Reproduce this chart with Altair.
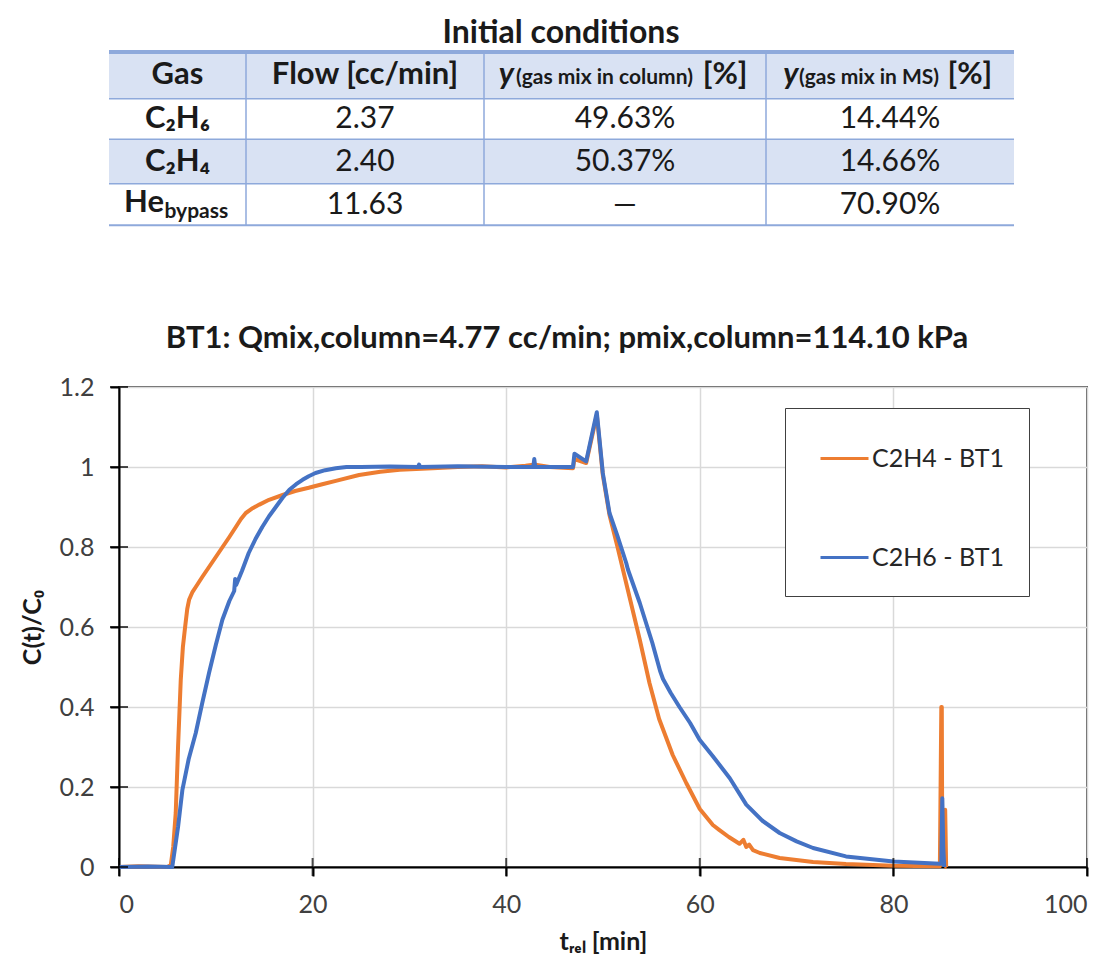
import altair as alt
import pandas as pd

# ---------------- data: breakthrough curves ----------------
series_names = ["C2H4 - BT1", "C2H6 - BT1"]
series_colors = ["#ED7D31", "#4472C4"]

t_c2h4 = [0, 2, 5.0, 5.35, 5.6, 5.86, 6.1, 6.38, 6.6, 6.83,
          7.05, 7.24, 7.6, 7.93, 8.6, 9.3, 10.0, 10.7, 11.4, 12.07,
          12.6, 13.1, 13.8, 14.5, 15.5, 16.9, 18.2, 19.6, 21.0, 22.5,
          24.8, 27.0, 29.0, 32.4, 35.0, 37.5, 40.0, 42.0, 43.0, 44.5,
          46.9, 47.05, 48.26, 49.36, 49.98, 50.67, 51.5, 52.56, 53.8, 54.8,
          55.8, 57.2, 58.6, 60.0, 61.35, 62.0, 63.0, 64.1, 64.5, 64.8,
          65.1, 65.5, 66.2, 68.25, 71.7, 75.1, 80.0, 84.8, 84.95, 85.0,
          85.05, 85.3, 85.35, 85.45, 85.5]
v_c2h4 = [0, 0.002, 0.0, 0.005, 0.05, 0.135, 0.30, 0.468, 0.55, 0.60,
          0.645, 0.668, 0.688, 0.70, 0.725, 0.75, 0.775, 0.80, 0.825, 0.85,
          0.87, 0.885, 0.897, 0.906, 0.918, 0.93, 0.94, 0.948, 0.957, 0.966,
          0.98, 0.988, 0.993, 0.997, 1.0, 1.002, 0.999, 1.003, 1.006, 1.0,
          0.997, 1.02, 1.01, 1.13, 0.98, 0.88, 0.80, 0.693, 0.568, 0.46,
          0.37, 0.28, 0.21, 0.145, 0.105, 0.093, 0.075, 0.058, 0.068, 0.05,
          0.056, 0.042, 0.035, 0.0225, 0.0125, 0.0075, 0.003, 0.002, 0.40, 0.40,
          0.01, 0.01, 0.143, 0.0, 0.0]

t_c2h6 = [0, 3, 5.5, 5.8, 6.1, 6.55, 7.2, 7.93, 8.6, 9.3,
          10.0, 10.68, 11.4, 11.9, 12.0, 12.1, 12.7, 13.4, 14.1, 14.8,
          15.5, 16.2, 16.9, 17.6, 18.3, 18.96, 19.6, 20.3, 21.3, 22.4,
          23.5, 25.0, 28.0, 30.9, 31.0, 31.1, 35.0, 40.0, 42.8, 42.9,
          43.0, 46.9, 47.05, 48.26, 49.36, 49.98, 50.67, 51.5, 52.4, 52.56,
          52.7, 53.8, 55.1, 55.9, 56.2, 57.0, 57.9, 59.0, 59.98, 61.35,
          63.1, 64.8, 66.5, 68.25, 70.0, 71.7, 75.1, 80.0, 84.8, 84.95,
          85.05, 85.15, 85.25]
v_c2h6 = [0, 0.001, 0.0, 0.05, 0.10, 0.193, 0.27, 0.335, 0.41, 0.485,
          0.555, 0.618, 0.665, 0.69, 0.72, 0.705, 0.74, 0.785, 0.82, 0.85,
          0.877, 0.90, 0.923, 0.943, 0.957, 0.968, 0.977, 0.985, 0.992, 0.997,
          1.0, 1.0, 1.001, 1.0, 1.006, 1.0, 1.002, 1.0, 1.0, 1.02,
          1.0, 1.0, 1.033, 1.014, 1.137, 0.985, 0.885, 0.827, 0.76, 0.745,
          0.735, 0.66, 0.56, 0.49, 0.47, 0.435, 0.40, 0.36, 0.318, 0.277,
          0.222, 0.156, 0.115, 0.085, 0.064, 0.0475, 0.0265, 0.014, 0.008, 0.008,
          0.172, 0.05, 0.0]

x_ticks = [0, 20, 40, 60, 80, 100]
y_ticks = [0, 0.2, 0.4, 0.6, 0.8, 1.0, 1.2]

chart_title = "BT1: Qmix,column=4.77 cc/min; pmix,column=114.10 kPa"
x_title = "tᵣₑₗ [min]"
y_title = "C(t)/C₀"

# ---------------- data: table ----------------
table_title = "Initial conditions"
header_main = ["Gas", "Flow [cc/min]", "y", "y"]
header_sub = ["", "", "(gas mix in column)", "(gas mix in MS)"]
header_unit = ["", "", "[%]", "[%]"]
gas_main = ["C₂H₆", "C₂H₄", "He"]
gas_sub = ["", "", "bypass"]
flow = ["2.37", "2.40", "11.63"]
y_column = ["49.63%", "50.37%", "—"]
y_ms = ["14.44%", "14.66%", "70.90%"]

# ---------------- layout / style (table geometry in px-like units) ----------------
FONT = "Lato"
TXT = "#1a1a1a"
col_edges = [0, 137, 375, 657, 905]
row_edges = [0, 46.7, 87.3, 131.7, 173.3]
row_shaded = [True, False, True, False]
SHADE = "#D9E2F3"
line_blue = "#8EA9DB"
hline_w = [4, 1.5, 1.5, 1.5, 2]
W_PLOT, H_PLOT = 968, 480
TABLE_SHIFT = 10            # table starts this many px left of the plot's left edge
# segment offsets within a header cell (relative to column centre)
seg_off = {2: (-111, -20.6, 77.7), 3: (-91.5, -21, 57.5)}
he_off = -13.5

col_c = [(col_edges[i] + col_edges[i + 1]) / 2 for i in range(4)]
row_c = [(row_edges[i] + row_edges[i + 1]) / 2 for i in range(4)]

# ---------------- table chart ----------------
shaded = [i for i in range(4) if row_shaded[i]]
rects = pd.DataFrame({
    "x0": [col_edges[0]] * len(shaded), "x1": [col_edges[-1]] * len(shaded),
    "y0": [row_edges[i] for i in shaded], "y1": [row_edges[i + 1] for i in shaded]})
hlines = pd.DataFrame({"x0": [col_edges[0]] * 5, "x1": [col_edges[-1]] * 5,
                       "y": row_edges, "w": hline_w})
vlines = pd.DataFrame({"x": col_edges[1:-1], "y0": [row_edges[0]] * 3,
                       "y1": [row_edges[-1]] * 3})

xs = alt.Scale(domain=[TABLE_SHIFT, TABLE_SHIFT + W_PLOT])
ys = alt.Scale(domain=[row_edges[0], row_edges[-1]], reverse=True)

bold_cells, reg_cells = [], []
for c in range(2):
    bold_cells.append({"x": col_c[c], "y": row_c[0], "t": header_main[c]})
for r in range(2):
    bold_cells.append({"x": col_c[0], "y": row_c[r + 1], "t": gas_main[r]})
for r in range(3):
    reg_cells.append({"x": col_c[1], "y": row_c[r + 1], "t": flow[r]})
    reg_cells.append({"x": col_c[2], "y": row_c[r + 1], "t": y_column[r]})
    reg_cells.append({"x": col_c[3], "y": row_c[r + 1], "t": y_ms[r]})

y_it, y_sub, y_unit = [], [], []
for c in (2, 3):
    o = seg_off[c]
    y_it.append({"x": col_c[c] + o[0], "y": row_c[0], "t": header_main[c]})
    y_sub.append({"x": col_c[c] + o[1], "y": row_c[0], "t": header_sub[c]})
    y_unit.append({"x": col_c[c] + o[2], "y": row_c[0], "t": header_unit[c]})
he_main = [{"x": col_c[0] + he_off, "y": row_c[3], "t": gas_main[2]}]
he_sub = [{"x": col_c[0] + he_off + 0.5, "y": row_c[3], "t": gas_sub[2]}]


def txt(rows, **kw):
    return alt.Chart(pd.DataFrame(rows)).mark_text(font=FONT, color=TXT, **kw).encode(
        x=alt.X("x:Q", scale=xs, axis=None), y=alt.Y("y:Q", scale=ys, axis=None), text="t:N")


table = alt.layer(
    alt.Chart(rects).mark_rect(color=SHADE).encode(
        x=alt.X("x0:Q", scale=xs, axis=None), x2="x1", y=alt.Y("y0:Q", scale=ys, axis=None),
        y2="y1"),
    alt.Chart(vlines).mark_rule(color=line_blue, strokeWidth=1.5).encode(
        x=alt.X("x:Q", scale=xs, axis=None), y=alt.Y("y0:Q", scale=ys, axis=None), y2="y1"),
    alt.Chart(hlines).mark_rule(color=line_blue).encode(
        x=alt.X("x0:Q", scale=xs, axis=None), x2="x1", y=alt.Y("y:Q", scale=ys, axis=None),
        strokeWidth=alt.StrokeWidth("w:Q", scale=None)),
    txt(bold_cells, fontSize=31, fontWeight="bold"),
    txt(reg_cells, fontSize=30),
    txt(y_it, fontSize=31, fontWeight="bold", fontStyle="italic", align="right"),
    txt(y_sub, fontSize=21, fontWeight="bold", dy=3),
    txt(y_unit, fontSize=31, fontWeight="bold", align="left"),
    txt(he_main, fontSize=31, fontWeight="bold", align="right", dy=-2),
    txt(he_sub, fontSize=21, fontWeight="bold", align="left", dy=7),
).properties(
    width=W_PLOT, height=row_edges[-1],
    title=alt.TitleParams(table_title, font=FONT, fontSize=32, fontWeight="bold",
                          color=TXT, dx=-42, offset=0),
)

# ---------------- line chart ----------------
df = pd.concat([
    pd.DataFrame({"t": t_c2h4, "c": v_c2h4, "series": series_names[0]}),
    pd.DataFrame({"t": t_c2h6, "c": v_c2h6, "series": series_names[1]}),
])

color = alt.Color("series:N", scale=alt.Scale(domain=series_names, range=series_colors),
                  legend=alt.Legend(title=None, orient="none", legendX=666, legendY=21,
                                    symbolType="stroke", symbolSize=2304, symbolStrokeWidth=3,
                                    symbolOffset=9,
                                    labelFont=FONT, labelFontSize=25, labelColor="#262626",
                                    padding=25, rowPadding=60, labelOffset=2,
                                    strokeColor="#404040", fillColor="#FFFFFF"))
xenc = alt.X("t:Q", scale=alt.Scale(domain=[0, 100]),
             axis=alt.Axis(values=x_ticks, title=x_title))
yenc = alt.Y("c:Q", scale=alt.Scale(domain=[0, 1.2]),
             axis=alt.Axis(values=y_ticks, format=".1~f", title=y_title))

series_layers = [
    alt.Chart(df).transform_filter(alt.datum.series == s)
    .mark_line(strokeWidth=4, strokeJoin="round")
    .encode(x=xenc, y=yenc, color=color)
    for s in series_names
]
# cross-style tick marks on both axes (Excel look)
xtick_marks = alt.Chart(pd.DataFrame({"t": x_ticks})).mark_tick(
    orient="vertical", size=18, thickness=2, color="#000000").encode(x=xenc, y=alt.datum(0))
ytick_marks = alt.Chart(pd.DataFrame({"c": y_ticks})).mark_tick(
    orient="horizontal", size=18, thickness=2, color="#000000").encode(y=yenc, x=alt.datum(0))

lines = alt.layer(*series_layers, xtick_marks, ytick_marks).properties(
    width=W_PLOT, height=H_PLOT,
    title=alt.TitleParams(chart_title, font=FONT, fontSize=31, fontWeight="bold",
                          color=TXT, dx=-36, offset=20),
    view=alt.ViewBackground(stroke="#595959", strokeWidth=2),
)

chart = alt.vconcat(table, lines, spacing=95).resolve_legend(color="independent").properties(
    padding={"left": 19, "top": 17, "right": 3, "bottom": 5}
).configure_view(stroke=None).configure_axis(
    labelFont=FONT, labelFontSize=25, labelColor="#404040",
    titleFont=FONT, titleFontSize=25, titleFontWeight="bold", titleColor=TXT,
    domainColor="#000000", domainWidth=2, tickColor="#000000", tickWidth=2, tickSize=9,
    gridColor="#D9D9D9", gridWidth=1.5, labelPadding=16,
).configure_axisY(titlePadding=14).configure_axisX(titlePadding=12)

chart.save("out.html", embed_options={"renderer": "svg", "actions": False})
